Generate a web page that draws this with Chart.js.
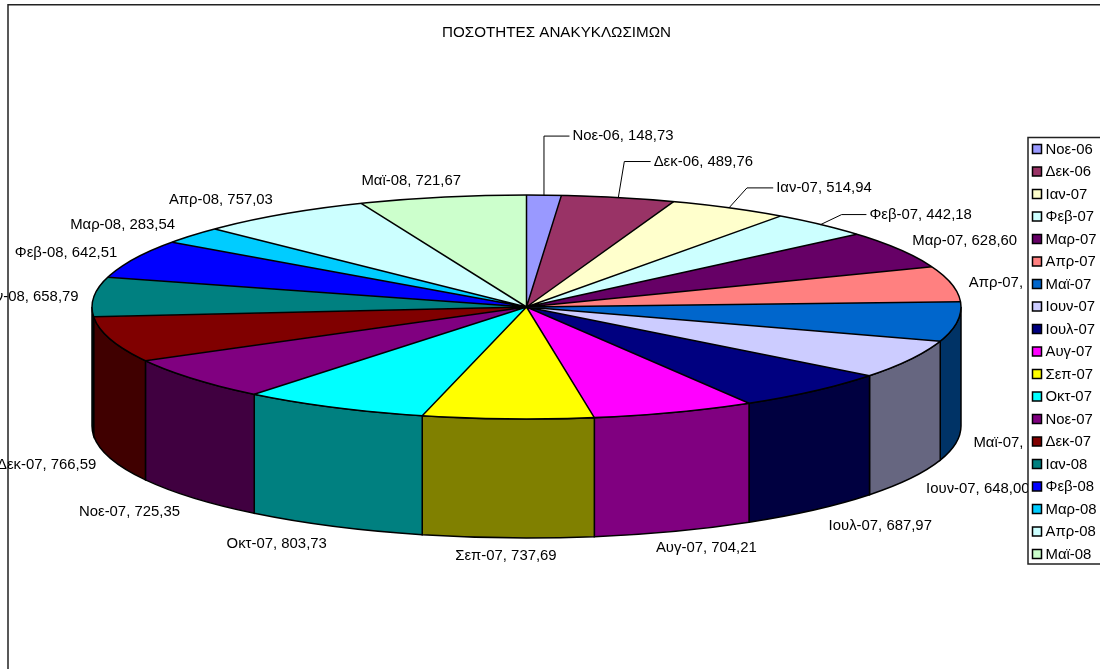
<!DOCTYPE html>
<html>
<head>
<meta charset="utf-8">
<title>ΠΟΣΟΤΗΤΕΣ ΑΝΑΚΥΚΛΩΣΙΜΩΝ</title>
<script src="https://cdn.jsdelivr.net/npm/chart.js@4"></script>
<style>
    html, body { margin: 0; padding: 0; background: #fff; }
    canvas { display: block; }
</style>
</head>
<body>
<canvas id="pieChart" width="1100" height="669"></canvas>
<script>
const titleText = 'ΠΟΣΟΤΗΤΕΣ ΑΝΑΚΥΚΛΩΣΙΜΩΝ';

const months = ['Νοε-06', 'Δεκ-06', 'Ιαν-07', 'Φεβ-07', 'Μαρ-07', 'Απρ-07', 'Μαϊ-07', 'Ιουν-07', 'Ιουλ-07', 'Αυγ-07',
    'Σεπ-07', 'Οκτ-07', 'Νοε-07', 'Δεκ-07', 'Ιαν-08', 'Φεβ-08', 'Μαρ-08', 'Απρ-08', 'Μαϊ-08'];

// Απρ-07 and Μαϊ-07 are hidden behind the legend
const quantities = [148.73, 489.76, 514.94, 442.18, 628.60, 593.00, 660.00, 648.00, 687.97, 704.21,
    737.69, 803.73, 725.35, 766.59, 658.79, 642.51, 283.54, 757.03, 721.67];

const sliceColors = ['#9999FF', '#993366', '#FFFFCC', '#CCFFFF', '#660066', '#FF8080', '#0066CC', '#CCCCFF', '#000080', '#FF00FF',
    '#FFFF00', '#00FFFF', '#800080', '#800000', '#008080', '#0000FF', '#00CCFF', '#CCFFFF', '#CCFFCC'];

// label centre, relative to the middle of the slice's outer rim
const labelOffsets = [[79, -59], [85, -36], [95, -20], [100, -10], [65, -9], [69, -1], [66, 2], [67, 11], [66, 16], [32, 17],
    [-2, 18], [-57, 18], [-64, 14], [-64, 6], [-63, 0], [-68, -6], [-70, -10], [-62, -14], [-31, -16]];

// horizontal distance of the leader elbow from the rim, only the first slices have leaders
const leaderElbows = [0, 6, 18, 21];

const PIE = { cx: 526.5, cy: 307, rx: 434.5, ry: 112, depth: 119 };
const LEGEND = { left: 1028, top: 137.5, bottom: 564, firstRow: 149, rowHeight: 22.5 };
const LABEL_FONT = '14.9px "Liberation Sans", Arial, sans-serif';
const LEGEND_FONT = '14.9px "Liberation Sans", Arial, sans-serif';

function rimPoint(angle, drop) {
    return {
        x: PIE.cx + PIE.rx * Math.cos(angle),
        y: PIE.cy + PIE.ry * Math.sin(angle) + (drop || 0)
    };
}

function darken(hex) {
    const n = parseInt(hex.slice(1), 16);
    const half = (v) => Math.round(v / 2);
    return `rgb(${half(n >> 16)}, ${half((n >> 8) & 255)}, ${half(n & 255)})`;
}

function drawWalls(ctx, arcs) {
    arcs.forEach((arc, i) => {
        const from = Math.max(arc.startAngle, 0);
        const to = Math.min(arc.endAngle, Math.PI);
        if (to <= from) return;
        ctx.beginPath();
        ctx.ellipse(PIE.cx, PIE.cy, PIE.rx, PIE.ry, 0, from, to);
        ctx.ellipse(PIE.cx, PIE.cy + PIE.depth, PIE.rx, PIE.ry, 0, to, from, true);
        ctx.closePath();
        ctx.fillStyle = darken(sliceColors[i]);
        ctx.fill();
        ctx.stroke();
    });
}

function drawEdges(ctx, arcs) {
    ctx.beginPath();
    arcs.forEach((arc) => {
        const p = rimPoint(arc.startAngle);
        ctx.moveTo(PIE.cx, PIE.cy);
        ctx.lineTo(p.x, p.y);
    });
    ctx.stroke();
    ctx.beginPath();
    ctx.ellipse(PIE.cx, PIE.cy, PIE.rx, PIE.ry, 0, 0, Math.PI * 2);
    ctx.stroke();
}

function drawLabels(ctx, arcs) {
    ctx.font = LABEL_FONT;
    ctx.fillStyle = '#000';
    ctx.textAlign = 'left';
    ctx.textBaseline = 'middle';
    arcs.forEach((arc, i) => {
        const mid = (arc.startAngle + arc.endAngle) / 2;
        const inFront = Math.sin(mid) > 0;
        const anchor = rimPoint(mid, inFront ? PIE.depth : 0);
        const text = `${months[i]}, ${quantities[i].toFixed(2).replace('.', ',')}`;
        const left = anchor.x + labelOffsets[i][0] - ctx.measureText(text).width / 2;
        const y = anchor.y + labelOffsets[i][1];
        ctx.fillText(text, left, y);

        if (i < leaderElbows.length) {
            ctx.lineWidth = 1;
            ctx.strokeStyle = '#000';
            ctx.beginPath();
            ctx.moveTo(anchor.x, anchor.y);
            ctx.lineTo(anchor.x + leaderElbows[i], y);
            ctx.lineTo(left - 3, y);
            ctx.stroke();
        }
    });
}

function drawLegend(ctx, width) {
    ctx.fillStyle = '#fff';
    ctx.fillRect(LEGEND.left, LEGEND.top, width - LEGEND.left, LEGEND.bottom - LEGEND.top);
    ctx.strokeStyle = '#222';
    ctx.lineWidth = 1.5;
    ctx.beginPath();
    ctx.moveTo(width + 2, LEGEND.top);
    ctx.lineTo(LEGEND.left, LEGEND.top);
    ctx.lineTo(LEGEND.left, LEGEND.bottom);
    ctx.lineTo(width + 2, LEGEND.bottom);
    ctx.stroke();

    ctx.font = LEGEND_FONT;
    ctx.textAlign = 'left';
    ctx.textBaseline = 'middle';
    months.forEach((month, i) => {
        const y = LEGEND.firstRow + i * LEGEND.rowHeight;
        ctx.fillStyle = sliceColors[i];
        ctx.fillRect(LEGEND.left + 4.5, y - 4.5, 9, 9);
        ctx.strokeStyle = '#000';
        ctx.strokeRect(LEGEND.left + 4.5, y - 4.5, 9, 9);
        ctx.fillStyle = '#000';
        ctx.fillText(month, LEGEND.left + 17.5, y + 0.5);
    });
}

const pie3dPlugin = {
    id: 'pie3d',
    beforeDraw(chart) {
        // outer frame, only its top and left edges fall inside the picture
        const ctx = chart.ctx;
        ctx.save();
        ctx.strokeStyle = '#222';
        ctx.lineWidth = 1.5;
        ctx.beginPath();
        ctx.moveTo(8, chart.height + 2);
        ctx.lineTo(8, 4.75);
        ctx.lineTo(chart.width + 2, 4.75);
        ctx.stroke();
        ctx.restore();
    },
    beforeDatasetsDraw(chart) {
        const ctx = chart.ctx;
        const arcs = chart.getDatasetMeta(0).data;
        ctx.save();
        ctx.strokeStyle = '#000';
        ctx.lineWidth = 1.5;
        drawWalls(ctx, arcs);
        ctx.restore();
        // flatten the library's round pie into the top face of the disc
        const arc = arcs[0];
        ctx.save();
        ctx.translate(PIE.cx, PIE.cy);
        ctx.scale(PIE.rx / arc.outerRadius, PIE.ry / arc.outerRadius);
        ctx.translate(-arc.x, -arc.y);
    },
    afterDatasetsDraw(chart) {
        const ctx = chart.ctx;
        const arcs = chart.getDatasetMeta(0).data;
        ctx.restore();
        ctx.save();
        ctx.strokeStyle = '#000';
        ctx.lineWidth = 1.5;
        drawEdges(ctx, arcs);
        drawLabels(ctx, arcs);
        drawLegend(ctx, chart.width);
        ctx.restore();
    }
};

new Chart(document.getElementById('pieChart'), {
    type: 'pie',
    data: {
        labels: months,
        datasets: [{
            data: quantities,
            backgroundColor: sliceColors,
            borderWidth: 0,
            clip: false
        }]
    },
    options: {
        responsive: false,
        animation: false,
        layout: { padding: { left: 13 } },
        plugins: {
            legend: { display: false },
            tooltip: { enabled: false },
            title: {
                display: true,
                text: titleText,
                color: '#000',
                font: { family: '"Liberation Sans", Arial, sans-serif', size: 15.2, weight: 'normal' },
                padding: { top: 23.5, bottom: 10 }
            }
        }
    },
    plugins: [pie3dPlugin]
});
</script>
</body>
</html>
